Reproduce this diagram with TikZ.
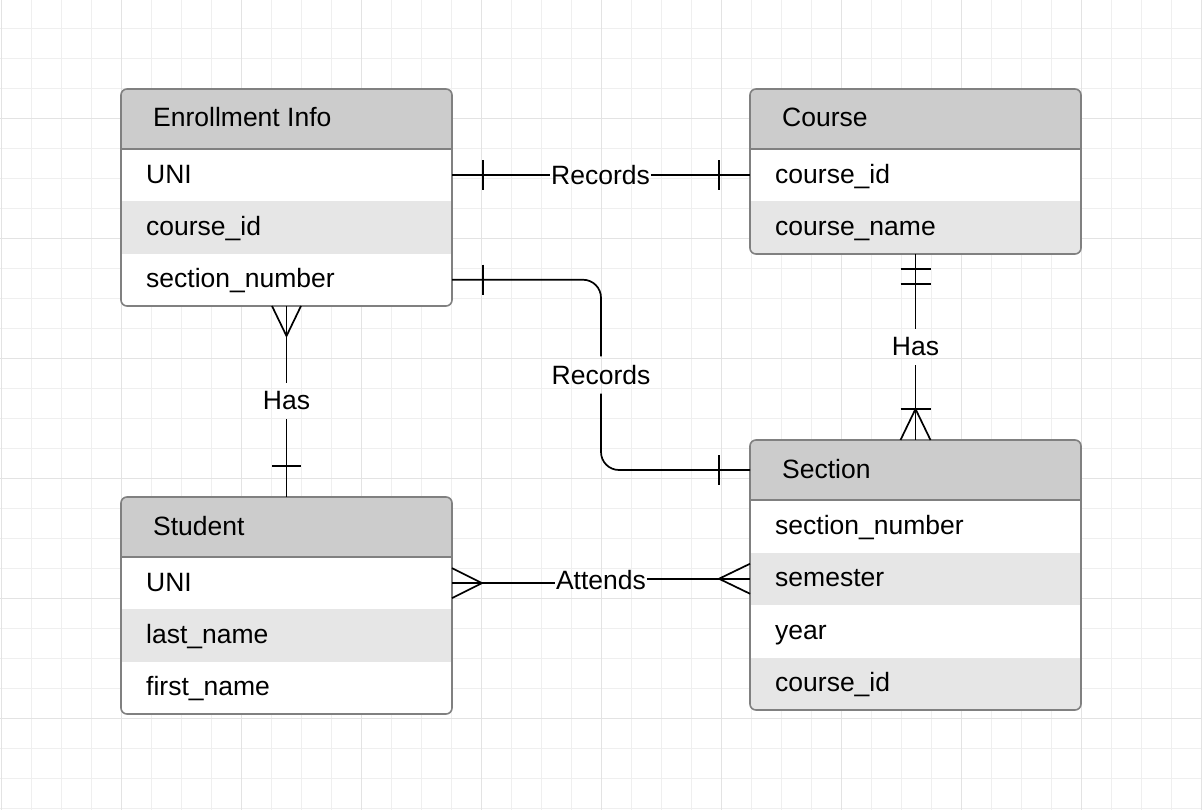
\documentclass[tikz,border=0pt]{standalone}
\usepackage{fontspec}
\setmainfont{Liberation Sans}
\usetikzlibrary{calc}
\definecolor{gridminor}{HTML}{EFEFEF}
\definecolor{gridmajor}{HTML}{E3E3E3}
\definecolor{hdrfill}{HTML}{CCCCCC}
\definecolor{altfill}{HTML}{E6E6E6}
\definecolor{bordergray}{HTML}{808080}
\newcommand{\lblfont}{\fontsize{26.5}{30}\selectfont}
\tikzset{
  boxframe/.style={draw=bordergray, line width=1.6pt, rounded corners=6pt, minimum width=331pt, inner sep=0pt, outer sep=0pt, anchor=north west},
  hdrrow/.style={minimum width=331pt, minimum height=60pt, inner sep=0pt, outer sep=0pt, anchor=north west},
  datarow/.style={minimum width=331pt, minimum height=52.3pt, inner sep=0pt, outer sep=0pt, anchor=north west},
  titletext/.style={anchor=base west, inner sep=0pt, font=\lblfont},
  attrtext/.style={anchor=base west, inner sep=0pt, font=\lblfont},
  divider/.style={draw=bordergray, line width=1.6pt},
  conn/.style={draw=black, line width=1.7pt},
  rel/.style={inner xsep=1pt, inner ysep=9pt, outer sep=0pt, font=\lblfont},
}
\begin{document}
\begin{tikzpicture}[x=1pt,y=-1pt]
\useasboundingbox (0,0) rectangle (1202,810);
\fill[white] (0,0) rectangle (1202,810);
% grid
\foreach \i in {0,...,40} \draw[gridminor, line width=1pt] (1.7+30*\i,0) -- (1.7+30*\i,810);
\foreach \j in {0,...,27} \draw[gridminor, line width=1pt] (0,28.3+30*\j) -- (1202,28.3+30*\j);
\foreach \i in {0,...,10} \draw[gridmajor, line width=1pt] (1.7+120*\i,0) -- (1.7+120*\i,810);
\foreach \j in {0,...,6} \draw[gridmajor, line width=1pt] (0,118.3+120*\j) -- (1202,118.3+120*\j);

% ===== Enrollment Info =====
\begin{scope}
\clip[rounded corners=6pt] (121,89) rectangle (452,306);
\fill[white] (121,89) rectangle (452,306);
\fill[hdrfill] (121,89) rectangle (452,149);
\fill[altfill] (121,201.3) rectangle (452,253.6);
\end{scope}
\node[hdrrow] (enrH) at (121,89) {};
\node[datarow] (enr1) at (121,149) {};
\node[datarow] (enr2) at (121,201.3) {};
\node[datarow] (enr3) at (121,253.6) {};
\node[boxframe, minimum height=217pt] (enr) at (121,89) {};
\draw[divider] (enrH.south west) -- (enrH.south east);
\node[titletext] (enrT) at ($(enrH.west)+(32,8)$) {Enrollment Info};
\node[attrtext] (enrA1) at ($(enr1.west)+(25,8)$) {UNI};
\node[attrtext] (enrA2) at ($(enr2.west)+(25,8)$) {course\_id};
\node[attrtext] (enrA3) at ($(enr3.west)+(25,8)$) {section\_number};

% ===== Course =====
\begin{scope}
\clip[rounded corners=6pt] (750,89) rectangle (1081,254);
\fill[white] (750,89) rectangle (1081,254);
\fill[hdrfill] (750,89) rectangle (1081,149);
\fill[altfill] (750,201.3) rectangle (1081,254);
\end{scope}
\node[hdrrow] (crsH) at (750,89) {};
\node[datarow] (crs1) at (750,149) {};
\node[datarow] (crs2) at (750,201.3) {};
\node[boxframe, minimum height=165pt] (crs) at (750,89) {};
\draw[divider] (crsH.south west) -- (crsH.south east);
\node[titletext] (crsT) at ($(crsH.west)+(32,8)$) {Course};
\node[attrtext] (crsA1) at ($(crs1.west)+(25,8)$) {course\_id};
\node[attrtext] (crsA2) at ($(crs2.west)+(25,8)$) {course\_name};

% ===== Student =====
\begin{scope}
\clip[rounded corners=6pt] (121,497) rectangle (452,714);
\fill[white] (121,497) rectangle (452,714);
\fill[hdrfill] (121,497) rectangle (452,557);
\fill[altfill] (121,609.3) rectangle (452,661.6);
\end{scope}
\node[hdrrow] (stuH) at (121,497) {};
\node[datarow] (stu1) at (121,557) {};
\node[datarow] (stu2) at (121,609.3) {};
\node[datarow] (stu3) at (121,661.6) {};
\node[boxframe, minimum height=217pt] (stu) at (121,497) {};
\draw[divider] (stuH.south west) -- (stuH.south east);
\node[titletext] (stuT) at ($(stuH.west)+(32,8)$) {Student};
\node[attrtext] (stuA1) at ($(stu1.west)+(25,8)$) {UNI};
\node[attrtext] (stuA2) at ($(stu2.west)+(25,8)$) {last\_name};
\node[attrtext] (stuA3) at ($(stu3.west)+(25,8)$) {first\_name};

% ===== Section =====
\begin{scope}
\clip[rounded corners=6pt] (750,440) rectangle (1081,710);
\fill[white] (750,440) rectangle (1081,710);
\fill[hdrfill] (750,440) rectangle (1081,500);
\fill[altfill] (750,552.5) rectangle (1081,605);
\fill[altfill] (750,657.5) rectangle (1081,710);
\end{scope}
\node[hdrrow] (secH) at (750,440) {};
\node[datarow, minimum height=52.5pt] (sec1) at (750,500) {};
\node[datarow, minimum height=52.5pt] (sec2) at (750,552.5) {};
\node[datarow, minimum height=52.5pt] (sec3) at (750,605) {};
\node[datarow, minimum height=52.5pt] (sec4) at (750,657.5) {};
\node[boxframe, minimum height=270pt] (sec) at (750,440) {};
\draw[divider] (secH.south west) -- (secH.south east);
\node[titletext] (secT) at ($(secH.west)+(32,8)$) {Section};
\node[attrtext] (secA1) at ($(sec1.west)+(25,8)$) {section\_number};
\node[attrtext] (secA2) at ($(sec2.west)+(25,8)$) {semester};
\node[attrtext] (secA3) at ($(sec3.west)+(25,8)$) {year};
\node[attrtext] (secA4) at ($(sec4.west)+(25,8)$) {course\_id};

% ===== Records (Enrollment -- Course) =====
\node[rel] (rec1) at (600.5,175) {Records};
\draw[conn] (enr1.east) -- (rec1.west |- enr1.east);
\draw[conn] (rec1.east |- crs1.west) -- (crs1.west);
\draw[conn] ($(enr1.east)+(31,-15)$) -- ++(0,30);
\draw[conn] ($(crs1.west)+(-31,-15)$) -- ++(0,30);

% ===== Records (Enrollment -- Section) =====
\node[rel] (rec2) at (601,375) {Records};
\draw[conn, rounded corners=18pt] (enr3.east) -| (rec2.north);
\draw[conn, rounded corners=18pt] (rec2.south) |- (secH.west);
\draw[conn] ($(enr3.east)+(31,-15)$) -- ++(0,30);
\draw[conn] ($(secH.west)+(-31,-15)$) -- ++(0,30);

% ===== Has (Enrollment -- Student) =====
\node[rel] (has1) at (286.5,401) {Has};
\draw[conn] (enr.south) -- (has1.north);
\draw[conn] (has1.south) -- (stu.north);
\draw[conn] ($(enr.south)+(-14.5,0)$) -- ($(enr.south)+(0,30)$) -- ($(enr.south)+(14.5,0)$);
\draw[conn] ($(stu.north)+(-14.5,-31)$) -- ++(29,0);

% ===== Has (Course -- Section) =====
\node[rel] (has2) at (915.5,347) {Has};
\draw[conn] (crs.south) -- (has2.north);
\draw[conn] (has2.south) -- (sec.north);
\draw[conn] ($(crs.south)+(-15,15)$) -- ++(30,0);
\draw[conn] ($(crs.south)+(-15,30)$) -- ++(30,0);
\draw[conn] ($(sec.north)+(-15,0)$) -- ($(sec.north)+(0,-31)$) -- ($(sec.north)+(15,0)$);
\draw[conn] ($(sec.north)+(-15,-31)$) -- ++(30,0);

% ===== Attends (Student -- Section) =====
\node[rel] (att) at (601,580.5) {Attends};
\draw[conn] (stu1.east) -- (att.west |- stu1.east);
\draw[conn] (att.east |- sec2.west) -- (sec2.west);
\draw[conn] ($(stu1.east)+(0,-15)$) -- ($(stu1.east)+(30,0)$) -- ($(stu1.east)+(0,15)$);
\draw[conn] ($(sec2.west)+(0,-15)$) -- ($(sec2.west)+(-31,0)$) -- ($(sec2.west)+(0,15)$);
\end{tikzpicture}
\end{document}
